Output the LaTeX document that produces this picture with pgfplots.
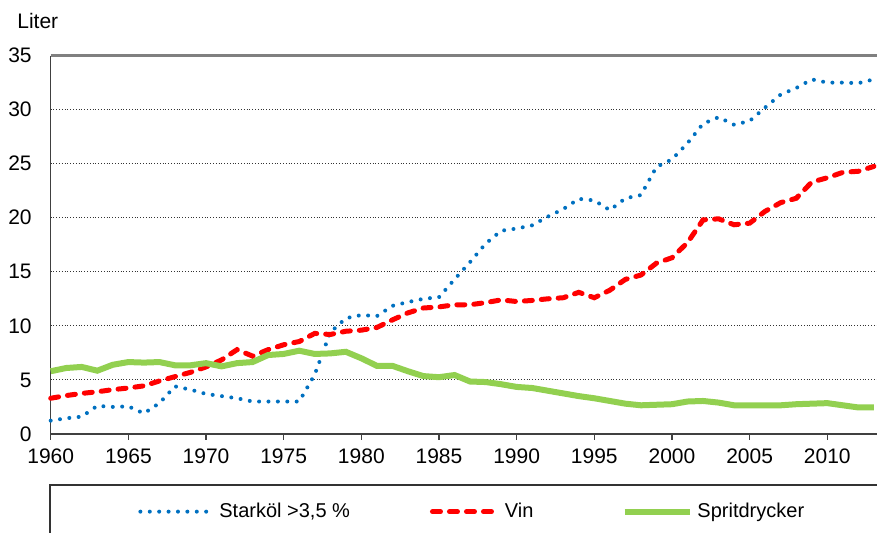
\documentclass[border=0pt]{standalone}
\usepackage{fontspec}
\setmainfont{Liberation Sans}
\usepackage{pgfplots}
\usepackage{pgfplotstable}
\pgfplotsset{compat=1.18}
\definecolor{cblue}{HTML}{0070C0}
\definecolor{cred}{HTML}{FF0000}
\definecolor{cgreen}{HTML}{92D050}

\pgfplotstableread{
year starkol vin sprit
1960 1.23 3.30 5.80
1961 1.45 3.55 6.10
1962 1.60 3.75 6.20
1963 2.60 3.90 5.85
1964 2.50 4.10 6.40
1965 2.55 4.25 6.65
1966 1.90 4.45 6.60
1967 2.85 4.90 6.65
1968 4.40 5.30 6.35
1969 4.10 5.70 6.35
1970 3.70 6.20 6.55
1971 3.50 6.85 6.25
1972 3.30 7.80 6.55
1973 3.00 7.20 6.65
1974 3.00 7.80 7.30
1975 3.00 8.25 7.40
1976 3.00 8.55 7.70
1977 5.50 9.30 7.40
1978 9.40 9.20 7.45
1979 10.70 9.50 7.60
1980 11.00 9.60 7.00
1981 10.90 9.85 6.30
1982 11.85 10.55 6.30
1983 12.20 11.20 5.80
1984 12.50 11.65 5.35
1985 12.65 11.75 5.25
1986 14.30 11.95 5.45
1987 15.90 11.95 4.85
1988 17.60 12.15 4.80
1989 18.80 12.40 4.60
1990 19.00 12.25 4.35
1991 19.30 12.35 4.25
1992 20.10 12.50 4.00
1993 20.80 12.60 3.75
1994 21.75 13.10 3.50
1995 21.60 12.60 3.30
1996 20.70 13.30 3.05
1997 21.80 14.30 2.80
1998 22.10 14.70 2.65
1999 24.70 15.80 2.70
2000 25.40 16.30 2.75
2001 26.90 17.70 3.00
2002 28.70 19.80 3.05
2003 29.30 19.90 2.90
2004 28.60 19.35 2.65
2005 28.95 19.50 2.65
2006 30.20 20.60 2.65
2007 31.40 21.40 2.65
2008 32.00 21.80 2.75
2009 32.80 23.30 2.80
2010 32.50 23.70 2.85
2011 32.50 24.20 2.65
2012 32.45 24.30 2.45
2013 32.80 24.75 2.45
}\datatable

\begin{document}
\begin{tikzpicture}[font=\fontsize{10.5}{12.5}\selectfont]
\begin{axis}[
  scale only axis, width=413.2pt, height=189.2pt,
  xmin=1960, xmax=2013.2, ymin=0, ymax=35,
  axis lines=left,
  axis line style={-, black!75, line width=0.8pt},
  xtick={1960,1965,...,2010}, ytick={0,5,...,35},
  /pgf/number format/1000 sep={},
  /pgf/number format/assume math mode=true,
  tick align=outside, major tick length=3pt,
  ytick style={draw=none},
  xtick style={black!75, line width=0.6pt},
  ymajorgrids,
  grid style={densely dotted, black!80, line width=0.5pt},
  xticklabel style={yshift=-1pt},
  yticklabel style={xshift=-3pt},
  clip=false,
  legend columns=3,
  legend style={draw=none, fill=none, at={(0,0)}, anchor=west,
    xshift=43.65pt, yshift=-38.85pt, inner sep=0pt,
    font=\fontsize{10}{12}\selectfont,
    /tikz/every odd column/.append style={column sep=0pt},
    /tikz/every even column/.append style={column sep=42pt}},
  legend image code/.code={\draw[#1] (0pt,0pt) -- (33pt,0pt);},
]
\addplot[cblue, line width=2pt, line cap=round, dash pattern=on 0pt off 4.7pt] table[x=year,y=starkol]{\datatable};
\addlegendentry{\kern3.5pt Starköl >3,5 \%\kern-4pt}
\addplot[cred, line width=2.5pt, line cap=round, dash pattern=on 4pt off 4.5pt] table[x=year,y=vin]{\datatable};
\addlegendentry{Vin}
\addplot[cgreen, line width=3pt] table[x=year,y=sprit]{\datatable};
\addlegendentry{Spritdrycker}
\draw[black!50, line width=1.2pt] (rel axis cs:0,1) -- (rel axis cs:1,1);
\end{axis}
\draw[black!80, line width=0.6pt] (-0.35pt,-60pt) -- (-0.35pt,-25.5pt) -- (430pt,-25.5pt);
\node[anchor=west, inner sep=0pt] at (-16.85pt,206.25pt) {Liter};
\pgfresetboundingbox
\useasboundingbox (-25.35pt,-49.5pt) rectangle (413.2pt,217pt);
\end{tikzpicture}
\end{document}
